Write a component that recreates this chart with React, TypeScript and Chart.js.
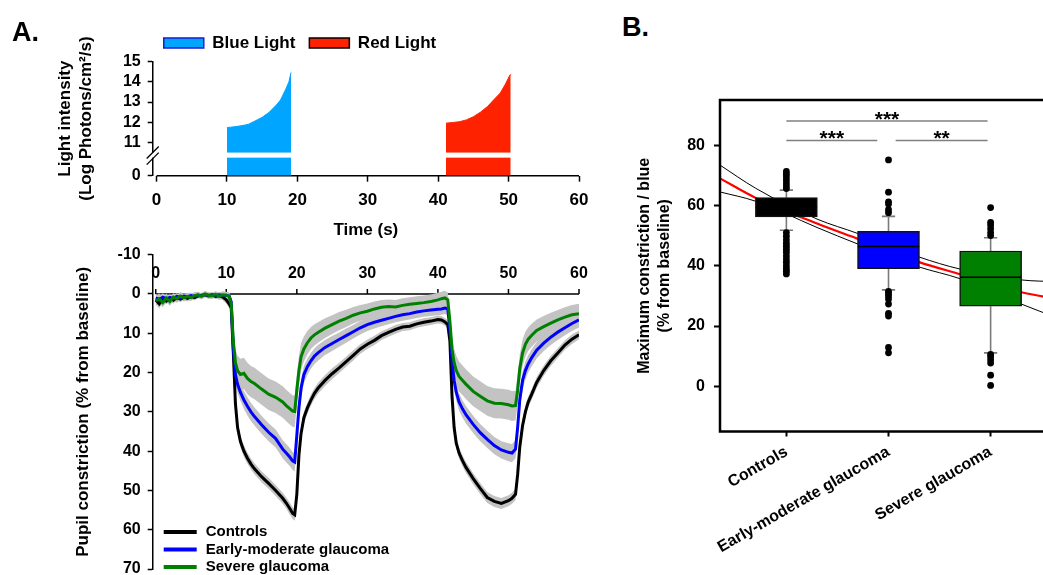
import React, { useEffect, useRef } from 'react';
import { Chart, registerables } from 'chart.js';

Chart.register(...registerables);

const FONT = '"Liberation Sans", Arial, Helvetica, sans-serif';
Chart.defaults.font.family = FONT;
Chart.defaults.font.weight = 'bold';
Chart.defaults.color = '#000';

// ---------------- Panel A, top: light stimulus ----------------
const LIGHT_LABELS = ['Blue Light', 'Red Light'];
const BLUE_TIME = [10, 11, 12, 13, 14, 15, 16, 17, 17.6, 18.3, 18.8, 19.1];
const BLUE_INTENSITY = [11.74, 11.78, 11.83, 11.9, 12.07, 12.25, 12.5, 12.85, 13.1, 13.6, 14.0, 14.46];
const RED_TIME = [41.1, 42, 43, 44, 45, 46, 47, 48, 48.8, 49.5, 50.2, 50.3];
const RED_INTENSITY = [11.96, 11.99, 12.03, 12.12, 12.28, 12.5, 12.78, 13.15, 13.44, 13.85, 14.34, 14.36];
const INTENSITY_TICKS = [11, 12, 13, 14, 15];
const INTENSITY_AXIS_ZERO = 9.37; // broken axis: this position is labelled 0
const INTENSITY_BREAK = [10.26, 10.51];
const TIME_TICKS = [0, 10, 20, 30, 40, 50, 60];

// ---------------- Panel A, bottom: pupil response ----------------
const GROUPS = ['Controls', 'Early-moderate glaucoma', 'Severe glaucoma'];
const TIME = [
  0, 0.5, 1, 1.5, 2, 2.5, 3, 3.5, 4, 4.5, 5, 5.5, 6, 6.5, 7, 7.5, 8, 8.5, 9, 9.5,
  10, 10.4, 10.7, 11, 11.3, 11.6, 12, 12.5, 13, 13.5, 14,
  15, 16, 17, 18, 18.5, 19, 19.4, 19.7,
  20, 20.3, 20.6, 21, 21.5, 22, 22.5, 23,
  24, 25, 26, 27, 28, 29, 30, 31, 32, 33, 34, 35, 36, 37, 38, 39, 40,
  40.5, 41, 41.4, 41.7, 42, 42.3, 42.6, 43, 43.5, 44,
  45, 46, 47, 48, 49, 50, 50.5, 51, 51.3, 51.6,
  52, 52.4, 52.8, 53.3, 54, 55, 56, 57, 58, 59, 60,
];
const CONTROLS = [
  1.5, 2.5, 1.2, 1.8, 1.0, 1.6, 0.9, 1.3, 0.8, 1.1, 0.6, 0.9, 0.5, 0.3, 0.2, 0.5, 0.3, 0.6, 0.4, 0.8,
  1.5, 2.5, 3.5, 15, 28, 34, 37.5, 40, 41.8, 43.3, 44.5,
  46.5, 48.2, 50, 52, 53.2, 54.6, 55.8, 56.2,
  51, 41, 35.5, 31.5, 29, 27, 25.3, 24,
  22, 20.3, 18.8, 17.2, 15.6, 14, 12.8, 11.8, 10.6, 9.8, 9, 8.4, 8.2, 7.6, 7.2, 6.9, 6.5,
  6.6, 7.1, 7.8, 12, 26, 34, 38, 40.5, 42.5, 44.2,
  47, 49.5, 51.8, 52.8, 53.3, 52.6, 52, 51, 46, 39,
  33.5, 30, 27.5, 25.5, 22.5, 19.5, 17, 15, 13, 11.5, 10.4,
];
const CONTROLS_SEM = [
  1.0, 1.2, 0.9, 0.8, 0.8, 0.9, 0.7, 0.8, 0.7, 0.8, 0.7, 0.7, 0.6, 0.6, 0.6, 0.7, 0.6, 0.7, 0.7, 0.8,
  0.9, 1.0, 1.2, 1.5, 1.6, 1.6, 1.5, 1.5, 1.4, 1.4, 1.4,
  1.4, 1.4, 1.4, 1.4, 1.4, 1.5, 1.5, 1.5,
  1.6, 1.6, 1.5, 1.5, 1.4, 1.4, 1.4, 1.4,
  1.4, 1.4, 1.3, 1.3, 1.3, 1.2, 1.2, 1.2, 1.1, 1.1, 1.1, 1.0, 1.0, 1.0, 1.0, 1.0, 1.0,
  1.0, 1.0, 1.1, 1.3, 1.5, 1.5, 1.4, 1.4, 1.4, 1.4,
  1.4, 1.4, 1.4, 1.4, 1.4, 1.4, 1.4, 1.5, 1.6, 1.6,
  1.5, 1.5, 1.4, 1.4, 1.4, 1.3, 1.3, 1.2, 1.2, 1.2, 1.1,
];
const EARLY = [
  1.0, 1.4, 0.8, 1.2, 0.9, 1.1, 0.6, 0.9, 0.5, 0.7, 0.4, 0.6, 0.3, 0.5, 0.1, 0.3, 0.2, 0.4, 0.2, 0.4,
  0.3, 0.5, 2, 14, 20.5, 23, 25, 27, 28.6, 30, 31.2,
  33.3, 35.2, 36.8, 39.5, 40.5, 41.5, 42.5, 42.8,
  36, 29, 24, 20.5, 18.5, 17, 15.8, 15,
  13.6, 12.6, 11.6, 10.6, 9.6, 8.6, 7.8, 7.2, 6.7, 6.2, 5.7, 5.3, 5, 4.6, 4.3, 4.1, 3.9,
  3.8, 3.6, 3.8, 9, 17, 22, 25, 27.5, 29.3, 30.8,
  33.2, 35.3, 37, 38.6, 39.7, 40.3, 40.5, 39.5, 34, 27,
  22, 19.5, 17.8, 16.2, 14.3, 12.5, 11, 9.7, 8.6, 7.5, 6.6,
];
const EARLY_SEM = [
  1.0, 1.1, 0.9, 0.9, 0.8, 0.9, 0.8, 0.8, 0.7, 0.8, 0.7, 0.7, 0.7, 0.7, 0.6, 0.7, 0.6, 0.7, 0.7, 0.8,
  0.8, 0.9, 1.2, 2.0, 2.2, 2.2, 2.2, 2.3, 2.3, 2.3, 2.3,
  2.3, 2.3, 2.3, 2.3, 2.3, 2.3, 2.3, 2.3,
  2.4, 2.4, 2.3, 2.2, 2.1, 2.0, 2.0, 2.0,
  1.9, 1.9, 1.8, 1.8, 1.7, 1.7, 1.6, 1.6, 1.5, 1.5, 1.5, 1.5, 1.5, 1.5, 1.5, 1.5, 1.5,
  1.5, 1.5, 1.6, 1.8, 2.0, 2.1, 2.2, 2.2, 2.2, 2.2,
  2.2, 2.2, 2.2, 2.2, 2.2, 2.3, 2.3, 2.3, 2.4, 2.4,
  2.3, 2.3, 2.2, 2.2, 2.1, 2.0, 2.0, 2.0, 1.9, 1.9, 1.9,
];
const SEVERE = [
  1.8, 1.2, 2.2, 1.0, 1.9, 0.8, 1.2, 0.5, 1.0, 0.6, 0.9, 0.4, 0.2, 0.6, 0.0, 0.4, 0.5, 0.1, 0.6, 0.2,
  0.3, 0.6, 2.5, 12, 17.5, 19.5, 20.5, 20.2, 21.5, 22.3, 22.8,
  24.2, 25.5, 26.3, 27.5, 28.4, 29.2, 29.8, 29.9,
  24.5, 19.5, 16, 14, 12.4, 11.2, 10.4, 9.8,
  8.7, 7.8, 6.9, 6.2, 5.4, 4.8, 4.4, 3.8, 3.4, 3.2, 3.3, 2.9, 2.6, 2.4, 2.2, 1.9, 1.5,
  1.2, 1.0, 1.5, 7, 14, 17.5, 19.5, 21, 22, 23,
  24.8, 26, 27.2, 27.8, 27.9, 28.2, 28.5, 28.4, 24.5, 19,
  15, 12.8, 11.5, 10.5, 9.3, 8.3, 7.4, 6.6, 5.9, 5.3, 5,
];
const SEVERE_SEM = [
  1.2, 1.3, 1.2, 1.1, 1.1, 1.0, 1.0, 1.0, 0.9, 0.9, 0.9, 0.9, 0.8, 0.8, 0.8, 0.8, 0.8, 0.8, 0.9, 0.9,
  0.9, 1.0, 1.5, 2.8, 3.5, 3.8, 4.0, 4.0, 4.0, 4.0, 4.0,
  4.0, 4.0, 4.0, 4.0, 4.0, 4.0, 4.0, 4.0,
  4.0, 3.8, 3.5, 3.2, 3.0, 2.8, 2.7, 2.6,
  2.5, 2.4, 2.3, 2.2, 2.1, 2.0, 2.0, 1.9, 1.9, 1.8, 1.8, 1.8, 1.8, 1.8, 1.8, 1.8, 1.8,
  1.8, 1.8, 1.9, 2.5, 3.2, 3.6, 3.8, 3.8, 3.8, 3.8,
  3.8, 3.8, 3.8, 3.8, 3.8, 3.8, 3.8, 3.8, 3.8, 3.6,
  3.4, 3.2, 3.0, 2.9, 2.8, 2.7, 2.6, 2.5, 2.5, 2.5, 2.5,
];
const PUPIL_TICKS = [-10, 0, 10, 20, 30, 40, 50, 60, 70];

// ---------------- Panel B: maximum constriction to blue ----------------
const BOX_Q1 = [56.2, 39.0, 26.6];
const BOX_MEDIAN = [59.3, 46.4, 36.2];
const BOX_Q3 = [62.6, 51.4, 44.9];
const WHISKER_LOW = [51.8, 32.0, 11.1];
const WHISKER_HIGH = [65.1, 56.4, 49.3];
const OUTLIERS_CONTROLS = [65.6, 66.5, 67.5, 68.5, 69.5, 70.4, 71.3, 51.0, 49.8, 48.6, 47.5, 46.5, 45.5, 44.5, 43.3, 42.2, 41.2, 40.0, 39.0, 38.2, 37.3];
const OUTLIERS_EARLY = [75.1, 64.4, 61.2, 60.5, 58.6, 57.6, 31.5, 30.8, 30.0, 29.0, 27.3, 24.2, 23.3, 12.9, 11.1];
const OUTLIERS_SEVERE = [59.3, 54.4, 53.5, 52.3, 51.0, 50.0, 10.6, 9.8, 8.8, 7.7, 3.7, 0.3];
const FIT_X = [0.35, 0.7, 1.3, 1.7, 2.3, 2.7, 3.3, 3.65];
const FIT_MEAN = [69.0, 62.5, 54.0, 48.9, 41.2, 37.2, 31.2, 29.0];
const FIT_UPPER = [73.4, 65.7, 55.5, 50.7, 42.9, 38.9, 35.3, 34.7];
const FIT_LOWER = [64.5, 61.4, 52.7, 47.2, 39.6, 35.7, 27.3, 22.7];
const BRACKET_FROM = [1, 1, 2.07];
const BRACKET_TO = [2.97, 1.89, 2.97];
const BRACKET_Y = [88, 81.6, 81.6];
const BRACKET_LABELS = ['***', '***', '**'];
const MAX_TICKS = [0, 20, 40, 60, 80];

// ---------------- styling ----------------
const BLUE_FILL = '#00A5FF';
const RED_FILL = '#FF2200';
const LINE_COLORS = ['#000000', '#0000FF', '#008000'];
const BOX_COLORS = ['#000000', '#0000FF', '#008000'];
const BAND = '#C3C3C3';
const CAP = 0.065;
const BOX_HALF = 0.3;

const bold = (size: number, lineHeight = 1.2) => ({ family: FONT, size, weight: 'bold' as const, lineHeight });

// --------------- plugins ---------------
const brokenAxisPlugin = {
  id: 'brokenAxis',
  afterDatasetsDraw(chart: any) {
    const { ctx, chartArea, scales } = chart;
    const y = scales.y;
    const yTop = y.getPixelForValue(INTENSITY_BREAK[1]);
    const yBot = y.getPixelForValue(INTENSITY_BREAK[0]);
    ctx.save();
    ctx.fillStyle = '#fff';
    ctx.fillRect(chartArea.left - 3, yTop, chartArea.right - chartArea.left + 3, yBot - yTop);
    ctx.strokeStyle = '#000';
    ctx.lineWidth = 1.3;
    const x = chartArea.left;
    [yTop, yBot + 1].forEach((yy) => {
      ctx.beginPath();
      ctx.moveTo(x - 6, yy + 6);
      ctx.lineTo(x + 6, yy - 6);
      ctx.stroke();
    });
    ctx.restore();
  },
};

const timeAxisPlugin = {
  id: 'timeAxis',
  beforeDatasetsDraw(chart: any, _args: any, opts: any) {
    const { ctx, scales } = chart;
    const x = scales.x;
    const y = scales.y;
    const yPix = y.getPixelForValue(opts.at);
    const x0 = x.getPixelForValue(TIME_TICKS[0]);
    const x1 = x.getPixelForValue(TIME_TICKS[TIME_TICKS.length - 1]);
    ctx.save();
    ctx.strokeStyle = '#000';
    ctx.lineWidth = 1.5;
    ctx.beginPath();
    ctx.moveTo(x0, yPix);
    ctx.lineTo(x1, yPix);
    ctx.stroke();
    if (opts.labelsAbove) {
      ctx.font = `bold ${opts.fontSize}px ${FONT}`;
      ctx.fillStyle = '#000';
      ctx.textAlign = 'center';
      ctx.textBaseline = 'middle';
      TIME_TICKS.forEach((t) => {
        const px = x.getPixelForValue(t);
        ctx.beginPath();
        ctx.moveTo(px, yPix);
        ctx.lineTo(px, yPix - 5);
        ctx.stroke();
        ctx.fillText(String(t), px, yPix - 20);
      });
    }
    ctx.restore();
  },
};

const pupilLegendPlugin = {
  id: 'pupilLegend',
  afterDraw(chart: any) {
    const { ctx, chartArea } = chart;
    ctx.save();
    ctx.font = `bold 15px ${FONT}`;
    ctx.textBaseline = 'middle';
    ctx.textAlign = 'left';
    ctx.fillStyle = '#000';
    GROUPS.forEach((g, i) => {
      const yy = chartArea.bottom - 37 + i * 17.5;
      ctx.strokeStyle = LINE_COLORS[i];
      ctx.lineWidth = 4;
      ctx.beginPath();
      ctx.moveTo(chartArea.left + 11, yy);
      ctx.lineTo(chartArea.left + 44, yy);
      ctx.stroke();
      ctx.fillText(g, chartArea.left + 53, yy);
    });
    ctx.restore();
  },
};

const boxFramePlugin = {
  id: 'boxFrame',
  afterDatasetsDraw(chart: any) {
    const { ctx, chartArea: a, scales } = chart;
    const x = scales.x;
    const y = scales.y;
    ctx.save();
    BRACKET_Y.forEach((v, i) => {
      const yy = y.getPixelForValue(v);
      ctx.strokeStyle = '#808080';
      ctx.lineWidth = 1.5;
      ctx.beginPath();
      ctx.moveTo(x.getPixelForValue(BRACKET_FROM[i]), yy);
      ctx.lineTo(x.getPixelForValue(BRACKET_TO[i]), yy);
      ctx.stroke();
      ctx.fillStyle = '#000';
      ctx.font = `bold 21px ${FONT}`;
      ctx.textAlign = 'center';
      ctx.textBaseline = 'alphabetic';
      ctx.fillText(BRACKET_LABELS[i], x.getPixelForValue((BRACKET_FROM[i] + BRACKET_TO[i]) / 2), yy + 4.5);
    });
    ctx.strokeStyle = '#000';
    ctx.lineWidth = 2.5;
    ctx.strokeRect(a.left, a.top, a.right - a.left, a.bottom - a.top);
    ctx.restore();
  },
};

// --------------- configs ---------------
const pts = (xs: number[], ys: number[]) => xs.map((x, i) => ({ x, y: ys[i] }));

function lightConfig(): any {
  return {
    type: 'line',
    data: {
      datasets: [
        { label: LIGHT_LABELS[0], data: pts(BLUE_TIME, BLUE_INTENSITY), borderColor: BLUE_FILL, backgroundColor: BLUE_FILL, borderWidth: 1, pointRadius: 0, fill: { value: INTENSITY_AXIS_ZERO } },
        { label: LIGHT_LABELS[1], data: pts(RED_TIME, RED_INTENSITY), borderColor: RED_FILL, backgroundColor: RED_FILL, borderWidth: 1, pointRadius: 0, fill: { value: INTENSITY_AXIS_ZERO } },
      ],
    },
    options: {
      responsive: true,
      maintainAspectRatio: false,
      animation: false,
      events: [],
      layout: { padding: { left: 21, right: 21, top: 20.5, bottom: 0 } },
      plugins: {
        tooltip: { enabled: false },
        timeAxis: { at: INTENSITY_AXIS_ZERO, labelsAbove: false },
        legend: {
          position: 'top',
          align: 'center',
          maxHeight: 41.2,
          labels: {
            boxWidth: 40,
            boxHeight: 10,
            padding: 14,
            color: '#000',
            font: bold(17),
            generateLabels: () => [
              { text: LIGHT_LABELS[0], fillStyle: BLUE_FILL, strokeStyle: '#1A1ACF', lineWidth: 1.5, hidden: false, datasetIndex: 0, fontColor: '#000' },
              { text: LIGHT_LABELS[1], fillStyle: RED_FILL, strokeStyle: '#000', lineWidth: 1.5, hidden: false, datasetIndex: 1, fontColor: '#000' },
            ],
          },
        },
      },
      scales: {
        x: {
          type: 'linear',
          min: -0.55,
          max: 60,
          afterBuildTicks: (s: any) => { s.ticks = TIME_TICKS.map((v) => ({ value: v })); },
          afterFit: (s: any) => { s.height = 69.3; },
          border: { display: false },
          grid: { drawOnChartArea: false, drawTicks: true, tickLength: 6, tickWidth: 1.5, tickColor: '#000' },
          ticks: { padding: 8, color: '#000', font: bold(17), maxRotation: 0, autoSkip: false },
          title: { display: true, text: 'Time (s)', color: '#000', font: bold(17), padding: { top: 0, bottom: 4 } },
        },
        y: {
          min: INTENSITY_AXIS_ZERO,
          max: 15,
          afterBuildTicks: (s: any) => { s.ticks = [INTENSITY_AXIS_ZERO, ...INTENSITY_TICKS].map((v) => ({ value: v })); },
          afterFit: (s: any) => { s.width = 131.7; },
          border: { display: true, color: '#000', width: 1.5 },
          grid: { drawOnChartArea: false, drawTicks: true, tickLength: 5, tickWidth: 1.5, tickColor: '#000' },
          ticks: { padding: 7, color: '#000', font: bold(16), autoSkip: false, callback: (v: number) => (v === INTENSITY_AXIS_ZERO ? '0' : String(v)) },
          title: { display: true, text: ['Light intensity', '(Log Photons/cm²/s)'], color: '#000', font: bold(17, 1.235), padding: { top: 33.5, bottom: 0 } },
        },
      },
    },
    plugins: [timeAxisPlugin, brokenAxisPlugin],
  };
}

function pupilConfig(): any {
  const series = [
    { values: CONTROLS, sem: CONTROLS_SEM },
    { values: EARLY, sem: EARLY_SEM },
    { values: SEVERE, sem: SEVERE_SEM },
  ];
  const bands: any[] = [];
  series.forEach((s, k) => {
    bands.push({ label: 'low', data: TIME.map((t, i) => ({ x: t, y: s.values[i] - s.sem[i] })), borderColor: 'rgba(0,0,0,0)', borderWidth: 1, pointRadius: 0, fill: false, order: 10 + k });
    bands.push({ label: 'high', data: TIME.map((t, i) => ({ x: t, y: s.values[i] + s.sem[i] })), borderColor: 'rgba(0,0,0,0)', backgroundColor: BAND, borderWidth: 1, pointRadius: 0, fill: '-1', order: 10 + k });
  });
  const lines = series.map((s, k) => ({
    label: GROUPS[k],
    data: pts(TIME, s.values),
    borderColor: LINE_COLORS[k],
    borderWidth: 3,
    pointRadius: 0,
    fill: false,
    order: 2 - k,
  }));
  return {
    type: 'line',
    data: { datasets: [...bands, ...lines] },
    options: {
      responsive: true,
      maintainAspectRatio: false,
      animation: false,
      events: [],
      layout: { padding: { left: 0, right: 21, top: 22.7, bottom: 23 } },
      plugins: {
        legend: { display: false },
        tooltip: { enabled: false },
        timeAxis: { at: 0, labelsAbove: true, fontSize: 16 },
      },
      scales: {
        x: { type: 'linear', display: false, min: -0.43, max: 60 },
        y: {
          reverse: true,
          min: -10,
          max: 70,
          afterBuildTicks: (s: any) => { s.ticks = PUPIL_TICKS.map((v) => ({ value: v })); },
          afterFit: (s: any) => { s.width = 152.7; },
          border: { display: true, color: '#000', width: 1.5 },
          grid: { drawOnChartArea: false, drawTicks: true, tickLength: 5, tickWidth: 1.5, tickColor: '#000' },
          ticks: { padding: 7, color: '#000', font: bold(16), autoSkip: false },
          title: { display: true, text: 'Pupil constriction (% from baseline)', color: '#000', font: bold(17), padding: { top: 73, bottom: 0 } },
        },
      },
    },
    plugins: [timeAxisPlugin, pupilLegendPlugin],
  };
}

function boxConfig(): any {
  const whiskers: any[] = [];
  const medians: any[] = [];
  const outliers: any[] = [];
  const outlierGroups = [OUTLIERS_CONTROLS, OUTLIERS_EARLY, OUTLIERS_SEVERE];
  GROUPS.forEach((_, i) => {
    const cx = i + 1;
    whiskers.push(
      { x: cx, y: BOX_Q3[i] }, { x: cx, y: WHISKER_HIGH[i] }, { x: cx, y: null },
      { x: cx - CAP, y: WHISKER_HIGH[i] }, { x: cx + CAP, y: WHISKER_HIGH[i] }, { x: cx, y: null },
      { x: cx, y: BOX_Q1[i] }, { x: cx, y: WHISKER_LOW[i] }, { x: cx, y: null },
      { x: cx - CAP, y: WHISKER_LOW[i] }, { x: cx + CAP, y: WHISKER_LOW[i] }, { x: cx, y: null },
    );
    medians.push({ x: cx - BOX_HALF, y: BOX_MEDIAN[i] }, { x: cx + BOX_HALF, y: BOX_MEDIAN[i] }, { x: cx, y: null });
    outlierGroups[i].forEach((v) => outliers.push({ x: cx, y: v }));
  });
  return {
    type: 'bar',
    data: {
      datasets: [
        { type: 'scatter', label: 'outliers', data: outliers, backgroundColor: '#000', borderColor: '#000', pointRadius: 3.4, borderWidth: 0, order: 0 },
        { type: 'line', label: 'medians', data: medians, borderColor: '#000', borderWidth: 1.5, pointRadius: 0, spanGaps: false, fill: false, order: 1 },
        { type: 'bar', label: 'boxes', data: GROUPS.map((_, i) => ({ x: i + 1, y: [BOX_Q1[i], BOX_Q3[i]] })), backgroundColor: BOX_COLORS, borderColor: '#111', borderWidth: 1.5, borderSkipped: false, barThickness: 62, order: 2 },
        { type: 'line', label: 'fit', data: pts(FIT_X, FIT_MEAN), borderColor: '#FF0000', borderWidth: 2.2, pointRadius: 0, cubicInterpolationMode: 'monotone', fill: false, order: 3 },
        { type: 'line', label: 'fit upper', data: pts(FIT_X, FIT_UPPER), borderColor: '#000', borderWidth: 1, pointRadius: 0, cubicInterpolationMode: 'monotone', fill: false, order: 4 },
        { type: 'line', label: 'fit lower', data: pts(FIT_X, FIT_LOWER), borderColor: '#000', borderWidth: 1, pointRadius: 0, cubicInterpolationMode: 'monotone', fill: false, order: 4 },
        { type: 'line', label: 'whiskers', data: whiskers, borderColor: '#7A7A7A', borderWidth: 1.6, pointRadius: 0, spanGaps: false, fill: false, order: 5 },
      ],
    },
    options: {
      responsive: true,
      maintainAspectRatio: false,
      animation: false,
      events: [],
      layout: { padding: { left: 0, right: 23, top: 40, bottom: 0 } },
      plugins: { legend: { display: false }, tooltip: { enabled: false } },
      scales: {
        x: {
          type: 'linear',
          min: 0.35,
          max: 3.65,
          offset: false,
          afterBuildTicks: (s: any) => { s.ticks = GROUPS.map((_, i) => ({ value: i + 1 })); },
          afterFit: (s: any) => { s.height = 143.5; },
          border: { display: false },
          grid: { offset: false, drawOnChartArea: false, drawTicks: true, tickLength: 5, tickWidth: 2, tickColor: '#000' },
          ticks: { padding: 6, color: '#000', font: bold(16), autoSkip: false, minRotation: 30, maxRotation: 30, callback: (v: number) => GROUPS[Math.round(v) - 1] },
        },
        y: {
          min: -15,
          max: 95,
          beginAtZero: false,
          afterBuildTicks: (s: any) => { s.ticks = MAX_TICKS.map((v) => ({ value: v })); },
          afterFit: (s: any) => { s.width = 120; },
          border: { display: false },
          grid: { drawOnChartArea: false, drawTicks: true, tickLength: 6, tickWidth: 2, tickColor: '#000' },
          ticks: { padding: 9, color: '#000', font: bold(16), autoSkip: false },
          title: { display: true, text: ['Maximum constriction / blue', '(% from baseline)'], color: '#000', font: bold(16, 1.25), padding: { top: 35, bottom: 0 } },
        },
      },
    },
    plugins: [boxFramePlugin],
  };
}

function ChartPanel({ left, top, width, height, build }: { left: number; top: number; width: number; height: number; build: () => any }) {
  const ref = useRef<HTMLCanvasElement>(null);
  useEffect(() => {
    const chart = new Chart(ref.current as HTMLCanvasElement, build());
    return () => chart.destroy();
  }, []);
  return (
    <div style={{ position: 'absolute', left, top, width, height }}>
      <canvas ref={ref} />
    </div>
  );
}

const panelLabel: React.CSSProperties = {
  position: 'absolute',
  fontFamily: FONT,
  fontWeight: 'bold',
  fontSize: 27,
  lineHeight: 1,
  color: '#000',
};

export default function App() {
  return (
    <div style={{ position: 'fixed', left: 0, top: 0, width: 1043, height: 575, overflow: 'hidden', background: '#fff' }}>
      <ChartPanel left={0} top={0} width={600} height={245} build={lightConfig} />
      <ChartPanel left={0} top={232} width={600} height={360} build={pupilConfig} />
      <ChartPanel left={600} top={60} width={480} height={515} build={boxConfig} />
      <div style={{ ...panelLabel, left: 12, top: 19 }}>A.</div>
      <div style={{ ...panelLabel, left: 622, top: 14 }}>B.</div>
    </div>
  );
}
